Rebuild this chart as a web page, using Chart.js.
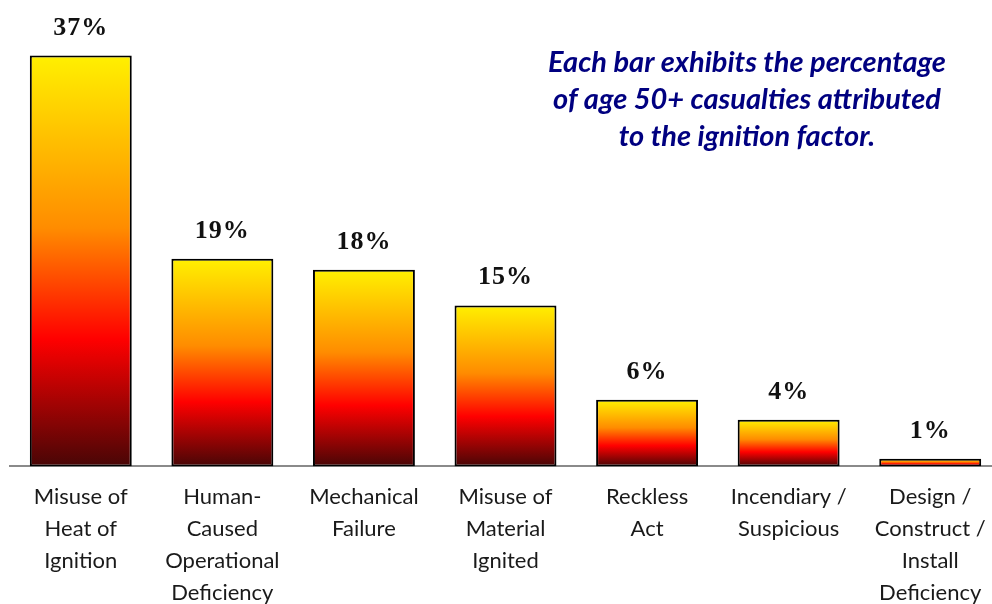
<!DOCTYPE html>
<html>
<head>
<meta charset="utf-8">
<script src="https://cdn.jsdelivr.net/npm/chart.js@4.4.1/dist/chart.umd.min.js"></script>
<style>
  html, body { margin: 0; padding: 0; background: #fff; overflow: hidden; }
  #wrap { width: 1002px; height: 624px; }
</style>
</head>
<body>
<div id="wrap"><canvas id="c" width="1002" height="624"></canvas></div>
<script>
const categories = [
  ['Misuse of', 'Heat of', 'Ignition'],
  ['Human-', 'Caused', 'Operational', 'Deficiency'],
  ['Mechanical', 'Failure'],
  ['Misuse of', 'Material', 'Ignited'],
  ['Reckless', 'Act'],
  ['Incendiary /', 'Suspicious'],
  ['Design /', 'Construct /', 'Install', 'Deficiency']
];
const values = [37.0, 18.7, 17.7, 14.5, 6.0, 4.2, 0.7];
const valueLabels = ['37%', '19%', '18%', '15%', '6%', '4%', '1%'];
const noteLines = [
  'Each bar exhibits the percentage',
  'of age 50+ casualties attributed',
  'to the ignition factor.'
];

function barGradient(context) {
  const chart = context.chart;
  const ca = chart.chartArea;
  if (!ca) return '#ff8c00';
  const y = chart.scales.y;
  const v = context.parsed ? context.parsed.y : values[context.dataIndex];
  const top = y.getPixelForValue(v);
  const bottom = y.getPixelForValue(0);
  const g = chart.ctx.createLinearGradient(0, top, 0, bottom);
  g.addColorStop(0, '#FFF000');
  g.addColorStop(0.42, '#FF8C00');
  g.addColorStop(0.69, '#FF0000');
  g.addColorStop(1, '#480606');
  return g;
}

const labelPlugin = {
  id: 'valueLabels',
  afterDatasetsDraw(chart) {
    const ctx = chart.ctx;
    const meta = chart.getDatasetMeta(0);
    ctx.save();
    ctx.fillStyle = '#111';
    ctx.font = 'bold 26px "Liberation Serif", serif';
    try { ctx.letterSpacing = '1px'; } catch (e) {}
    ctx.textAlign = 'center';
    ctx.textBaseline = 'alphabetic';
    meta.data.forEach((bar, i) => {
      ctx.fillText(valueLabels[i], bar.x, bar.y - 21);
    });
    ctx.restore();
  },
  afterDraw(chart) {
    const ctx = chart.ctx;
    ctx.save();
    ctx.fillStyle = '#000080';
    ctx.font = 'italic bold 29px Lato, sans-serif';
    ctx.textAlign = 'center';
    ctx.textBaseline = 'alphabetic';
    noteLines.forEach((t, i) => {
      ctx.fillText(t, 747, 72 + i * 37);
    });
    ctx.restore();
  }
};

new Chart(document.getElementById('c'), {
  type: 'bar',
  data: {
    labels: categories,
    datasets: [{
      data: values,
      backgroundColor: barGradient,
      borderColor: '#000',
      borderWidth: 2,
      borderSkipped: false,
      barPercentage: 0.72,
      categoryPercentage: 1.0
    }]
  },
  options: {
    responsive: false,
    animation: false,
    layout: { padding: { left: 10, right: 1, top: 0, bottom: 0 } },
    plugins: { legend: { display: false }, tooltip: { enabled: false } },
    scales: {
      x: {
        grid: { display: false, drawTicks: false },
        border: { display: true, color: '#8a8a8a', width: 2 },
        ticks: {
          color: '#1a1a1a',
          font: { family: 'Lato, sans-serif', size: 22, lineHeight: 1.45 },
          padding: 15,
          maxRotation: 0,
          minRotation: 0,
          autoSkip: false
        }
      },
      y: {
        display: false,
        min: 0,
        max: 42
      }
    }
  },
  plugins: [labelPlugin]
});
</script>
</body>
</html>
